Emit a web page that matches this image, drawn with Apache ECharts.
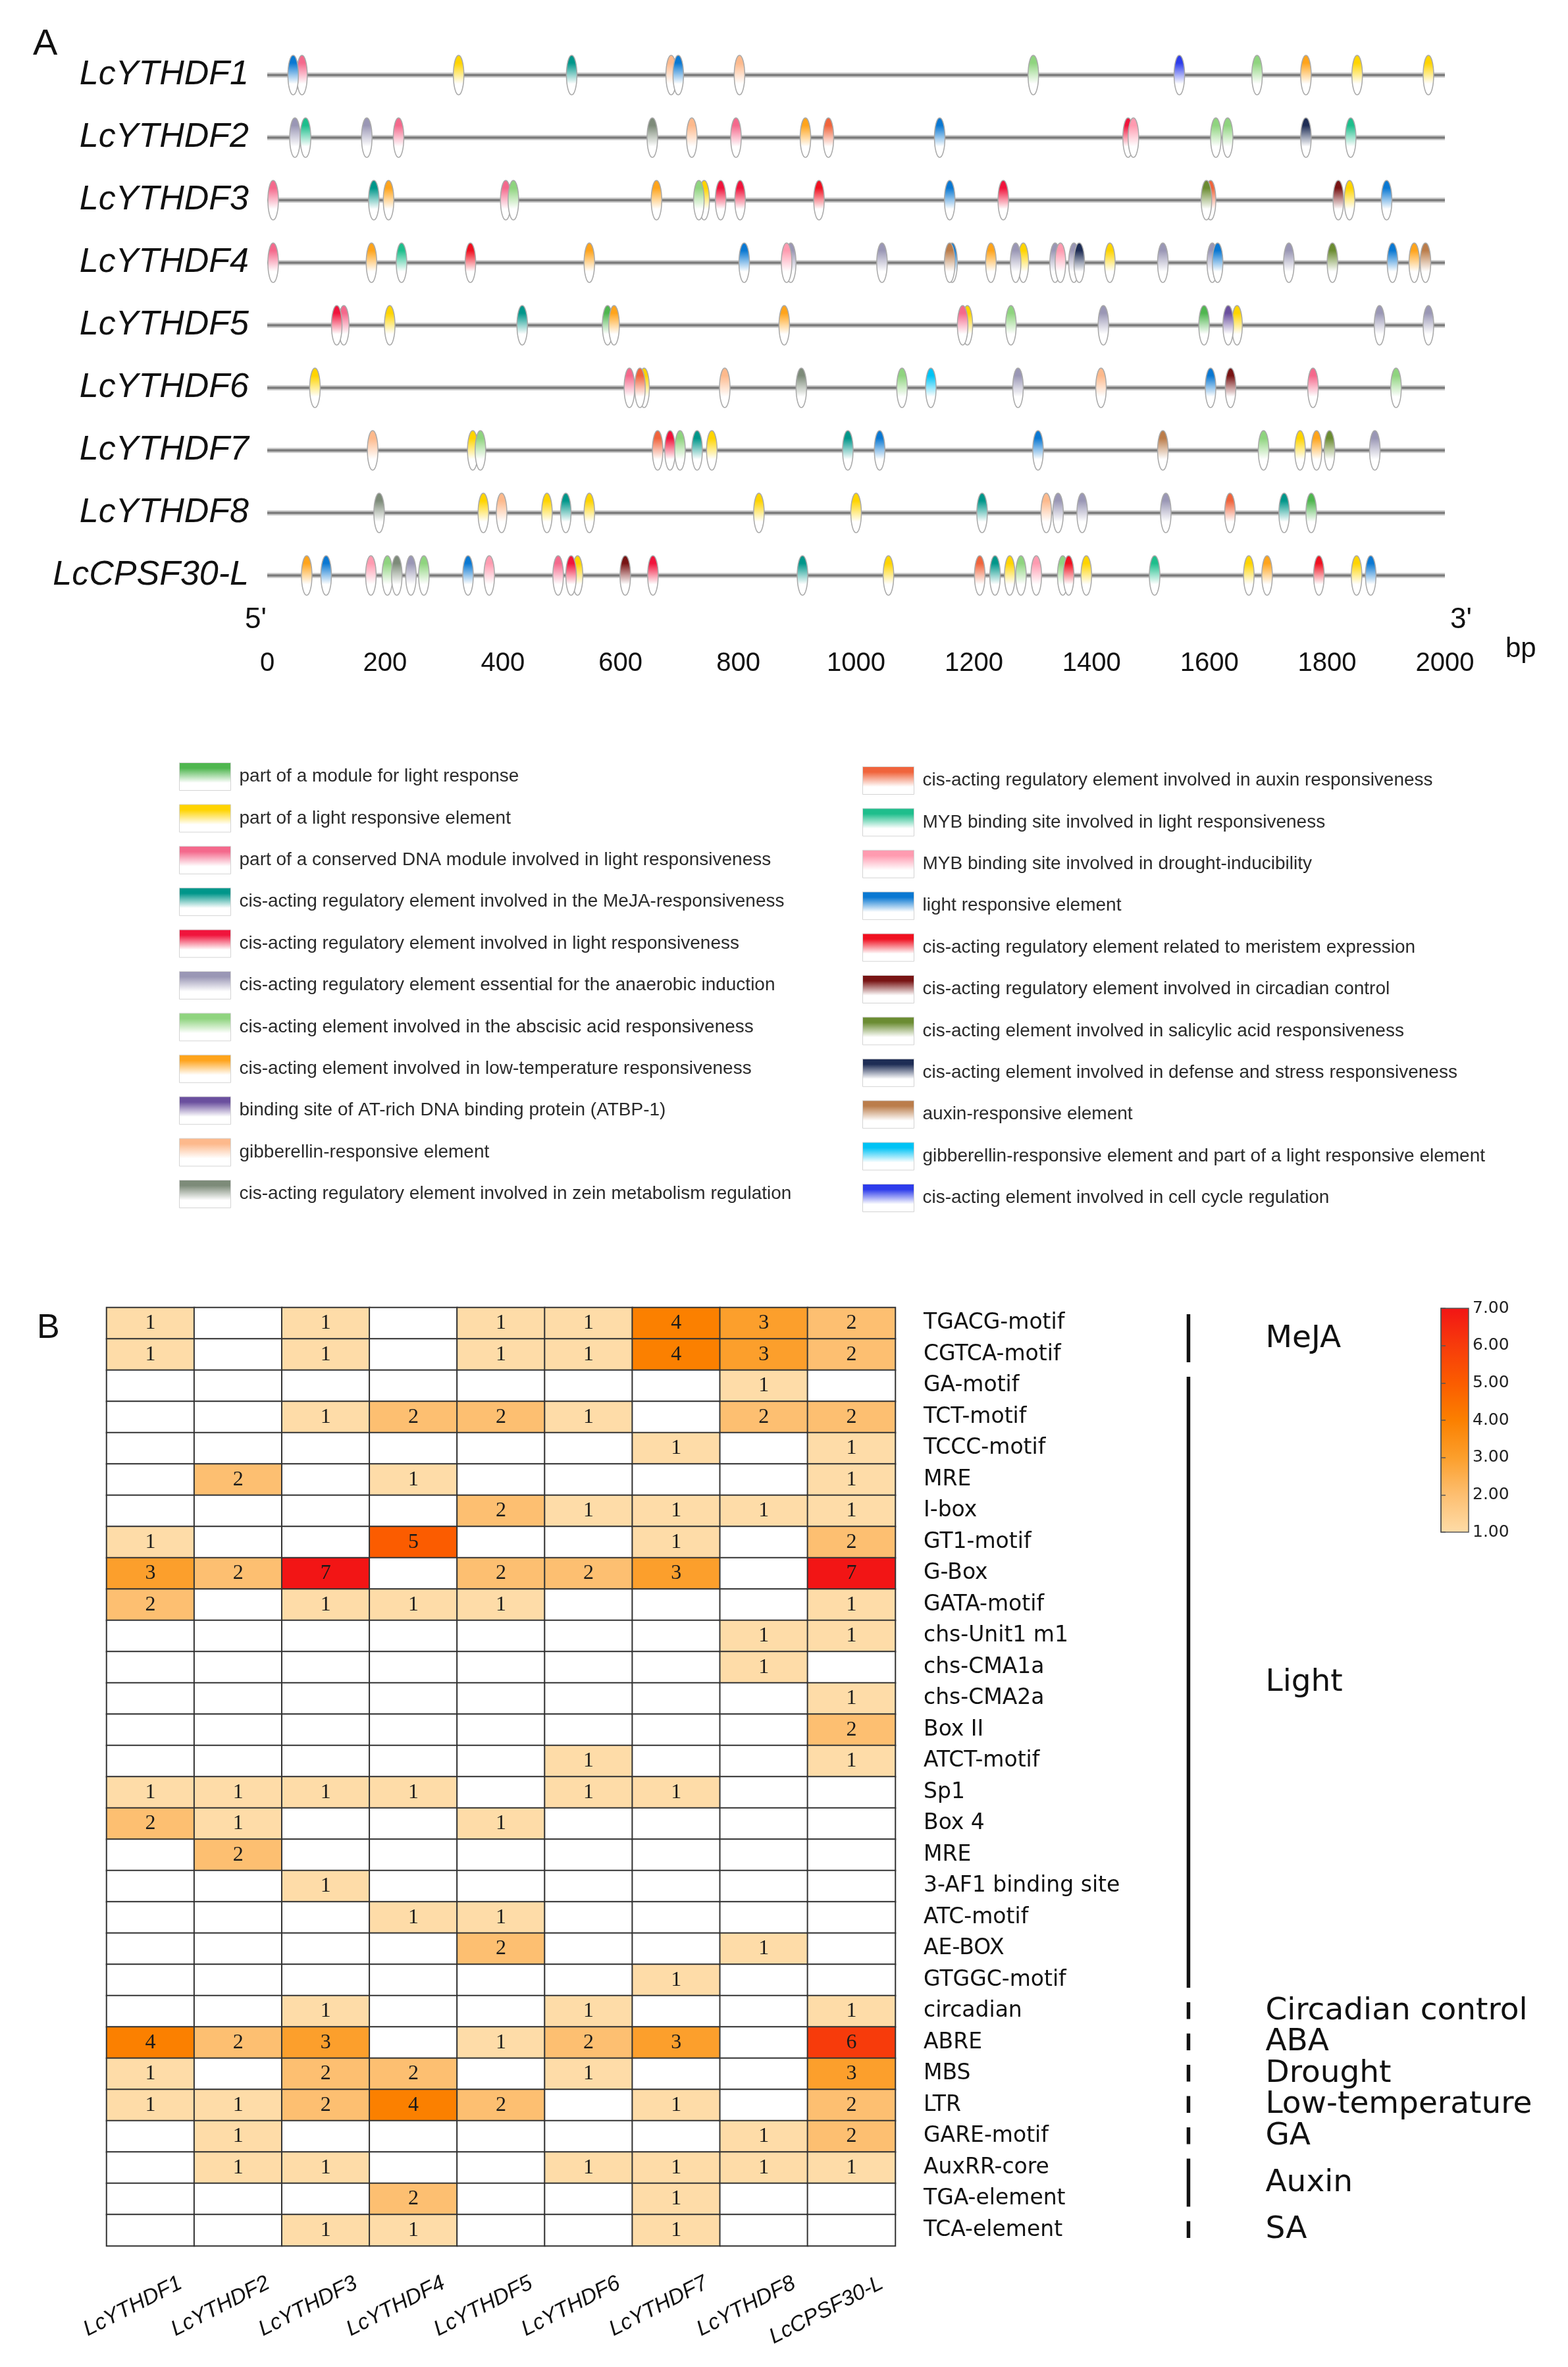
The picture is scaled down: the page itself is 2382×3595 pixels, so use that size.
<!DOCTYPE html>
<html><head><meta charset="utf-8">
<script src="https://cdn.jsdelivr.net/npm/echarts@6/dist/echarts.min.js"></script>
<style>html,body{margin:0;padding:0;background:#fff}#c{width:2382px;height:3595px}</style>
</head><body><div id="c"></div>
<script>
// ---------- Panel A data ----------
const genes = ['LcYTHDF1','LcYTHDF2','LcYTHDF3','LcYTHDF4','LcYTHDF5','LcYTHDF6','LcYTHDF7','LcYTHDF8','LcCPSF30-L'];
const sequenceLength = 2000;
const elementTypes = [
 'part of a module for light response',
 'part of a light responsive element',
 'part of a conserved DNA module involved in light responsiveness',
 'cis-acting regulatory element involved in the MeJA-responsiveness',
 'cis-acting regulatory element involved in light responsiveness',
 'cis-acting regulatory element essential for the anaerobic induction',
 'cis-acting element involved in the abscisic acid responsiveness',
 'cis-acting element involved in low-temperature responsiveness',
 'binding site of AT-rich DNA binding protein (ATBP-1)',
 'gibberellin-responsive element',
 'cis-acting regulatory element involved in zein metabolism regulation',
 'cis-acting regulatory element involved in auxin responsiveness',
 'MYB binding site involved in light responsiveness',
 'MYB binding site involved in drought-inducibility',
 'light responsive element',
 'cis-acting regulatory element related to meristem expression',
 'cis-acting regulatory element involved in circadian control',
 'cis-acting element involved in salicylic acid responsiveness',
 'cis-acting element involved in defense and stress responsiveness',
 'auxin-responsive element',
 'gibberellin-responsive element and part of a light responsive element',
 'cis-acting element involved in cell cycle regulation'
];
const elementColors = ['#4fb64f','#ffd400','#f4698c','#00968a','#f0143c','#9a97b5','#8fd47f','#ffa41c','#6a4f9e','#fdb98c','#7d8b79',
 '#f0643c','#1ebe8c','#ff9bb0','#0a78d2','#f01020','#781414','#6b8c32','#1e2d55','#bb7d4b','#00c3f5','#2d3ceb'];

// [position (bp), element type index]
const sitesYTHDF1 = [[44,14],[59,2],[325,1],[517,3],[686,9],[698,14],[802,9],[1301,6],[1549,21],[1681,6],[1764,7],[1851,1],[1972,1]];
const sitesYTHDF2 = [[47,5],[65,12],[169,5],[223,2],[654,10],[721,9],[796,2],[914,7],[953,11],[1142,14],[1462,4],[1471,13],[1611,6],[1631,6],[1764,18],[1840,12]];
const sitesYTHDF3 = [[10,2],[181,3],[206,7],[405,2],[418,6],[661,7],[733,6],[742,1],[770,4],[803,4],[937,15],[1159,14],[1250,4],[1595,17],[1602,11],[1819,16],[1838,1],[1901,14]];
const sitesYTHDF4 = [[10,2],[177,7],[228,12],[345,15],[547,7],[810,14],[882,13],[889,5],[1044,5],[1159,19],[1163,14],[1229,7],[1271,5],[1284,1],[1338,5],[1347,13],[1370,5],[1379,18],[1431,1],[1521,5],[1605,5],[1614,14],[1735,5],[1809,17],[1911,14],[1948,7],[1967,19]];
const sitesYTHDF5 = [[118,4],[130,2],[208,1],[433,3],[578,0],[589,7],[878,7],[1181,2],[1189,1],[1263,6],[1420,5],[1591,0],[1632,8],[1647,1],[1889,5],[1972,5]];
const sitesYTHDF6 = [[81,1],[615,2],[640,1],[633,11],[777,9],[907,10],[1078,6],[1127,20],[1275,5],[1416,9],[1602,14],[1636,16],[1776,2],[1917,6]];
const sitesYTHDF7 = [[179,9],[349,1],[362,6],[663,11],[684,4],[701,6],[730,3],[755,1],[986,3],[1040,14],[1309,14],[1521,19],[1692,6],[1754,1],[1782,7],[1804,17],[1881,5]];
const sitesYTHDF8 = [[190,10],[367,1],[398,9],[475,1],[507,3],[547,1],[835,1],[1000,1],[1214,3],[1323,9],[1343,5],[1384,5],[1526,5],[1635,11],[1727,3],[1773,0]];
const sitesCPSF30 = [[67,7],[100,14],[176,13],[204,6],[220,10],[244,5],[266,6],[341,14],[377,13],[494,2],[516,4],[527,1],[608,16],[655,4],[909,3],[1055,1],[1210,11],[1236,3],[1261,1],[1280,6],[1306,13],[1351,6],[1361,15],[1391,1],[1507,12],[1667,1],[1698,7],[1786,15],[1850,1],[1874,14]];
const geneSites = [sitesYTHDF1,sitesYTHDF2,sitesYTHDF3,sitesYTHDF4,sitesYTHDF5,sitesYTHDF6,sitesYTHDF7,sitesYTHDF8,sitesCPSF30];

// ---------- Panel B data ----------
const motifs = ['TGACG-motif','CGTCA-motif','GA-motif','TCT-motif','TCCC-motif','MRE','I-box','GT1-motif','G-Box','GATA-motif',
 'chs-Unit1 m1','chs-CMA1a','chs-CMA2a','Box II','ATCT-motif','Sp1','Box 4','MRE ','3-AF1 binding site','ATC-motif',
 'AE-BOX','GTGGC-motif','circadian','ABRE','MBS','LTR','GARE-motif','AuxRR-core','TGA-element','TCA-element'];
const countsYTHDF1 = [1,1,0,0,0,0,0,1,3,2, 0,0,0,0,0,1,2,0,0,0, 0,0,0,4,1,1,0,0,0,0];
const countsYTHDF2 = [0,0,0,0,0,2,0,0,2,0, 0,0,0,0,0,1,1,2,0,0, 0,0,0,2,0,1,1,1,0,0];
const countsYTHDF3 = [1,1,0,1,0,0,0,0,7,1, 0,0,0,0,0,1,0,0,1,0, 0,0,1,3,2,2,0,1,0,1];
const countsYTHDF4 = [0,0,0,2,0,1,0,5,0,1, 0,0,0,0,0,1,0,0,0,1, 0,0,0,0,2,4,0,0,2,1];
const countsYTHDF5 = [1,1,0,2,0,0,2,0,2,1, 0,0,0,0,0,0,1,0,0,1, 2,0,0,1,0,2,0,0,0,0];
const countsYTHDF6 = [1,1,0,1,0,0,1,0,2,0, 0,0,0,0,1,1,0,0,0,0, 0,0,1,2,1,0,0,1,0,0];
const countsYTHDF7 = [4,4,0,0,1,0,1,1,3,0, 0,0,0,0,0,1,0,0,0,0, 0,1,0,3,0,1,0,1,1,1];
const countsYTHDF8 = [3,3,1,2,0,0,1,0,0,0, 1,1,0,0,0,0,0,0,0,0, 1,0,0,0,0,0,1,1,0,0];
const countsCPSF30 = [2,2,0,2,1,1,1,2,7,1, 1,0,1,2,1,0,0,0,0,0, 0,0,1,6,3,2,2,1,0,0];
const geneCounts = [countsYTHDF1,countsYTHDF2,countsYTHDF3,countsYTHDF4,countsYTHDF5,countsYTHDF6,countsYTHDF7,countsYTHDF8,countsCPSF30];
const groupNames = ['MeJA','Light','Circadian control','ABA','Drought','Low-temperature','GA','Auxin','SA'];
const groupFirstRow = [0,2,22,23,24,25,26,27,29];
const groupLastRow  = [1,21,22,23,24,25,26,28,29];
const heatPalette = ['#fedca8','#fdbf71','#fc9f2c','#fb8000','#fb5c00','#f73b0b','#f21515'];

// ---------- build ----------
function grad(c){
  return new echarts.graphic.LinearGradient(0,0,0,1,[
    {offset:0,color:c},{offset:0.2,color:c},{offset:0.72,color:'#ffffff'},{offset:1,color:'#ffffff'}]);
}
const typeData = elementTypes.map(()=>[]);
geneSites.forEach((list,g)=>list.forEach(([bp,t])=>typeData[t].push([bp,g])));

const siteSeries = elementTypes.map((name,t)=>({
  type:'custom', name, xAxisIndex:0, yAxisIndex:0, z:3, silent:true,
  itemStyle:{color:grad(elementColors[t])},
  data:typeData[t],
  renderItem:(params,api)=>{
    const p = api.coord([api.value(0), api.value(1)]);
    return {type:'ellipse', shape:{cx:p[0], cy:p[1], rx:8, ry:30},
      style:{fill:grad(elementColors[t]), stroke:'#a9a9a9', lineWidth:1.5}};
  }
}));

const heatData = [];
geneCounts.forEach((col,c)=>col.forEach((v,r)=>heatData.push([c,r,v])));

const cbGrad = new echarts.graphic.LinearGradient(0,0,0,1,
  heatPalette.slice().reverse().map((c,i,a)=>({offset:i/(a.length-1), color:c})));

const pieces = [{value:0, color:'#ffffff'}].concat(heatPalette.map((c,i)=>({value:i+1, color:c})));

const chart = echarts.init(document.getElementById('c'), null, {renderer:'canvas'});
const option = {
  animation:false,
  backgroundColor:'#ffffff',
  grid:[
    {left:406, top:66.5, width:1789, height:855},
    {left:162, top:1986, width:1198, height:1425},
    {left:2189, top:1987, width:42, height:340, show:true, backgroundColor:cbGrad, borderColor:'#555', borderWidth:1.5},
    {left:208, top:1986, width:1198, height:1425}
  ],
  xAxis:[
    {gridIndex:0, type:'value', min:0, max:sequenceLength, interval:200, offset:30,
     axisLine:{lineStyle:{color:'#a3a3a3', width:7}},
     axisTick:{length:31, lineStyle:{color:'#8a8a8a', width:2}},
     axisLabel:{fontSize:40, color:'#111', margin:36, fontFamily:'Liberation Sans', formatter:v=>String(v)},
     splitLine:{show:false}},
    {gridIndex:1, type:'category', data:genes, axisLine:{show:false}, axisTick:{show:false}, axisLabel:{show:false}},
    {gridIndex:2, type:'value', show:false},
    {gridIndex:3, type:'category', data:genes, axisLine:{show:false}, axisTick:{show:false},
     axisLabel:{rotate:27, fontStyle:'italic', fontSize:33, color:'#111', margin:55, fontFamily:'Liberation Sans', interval:0}}
  ],
  yAxis:[
    {gridIndex:0, type:'category', data:genes, inverse:true, axisLine:{show:false}, axisTick:{show:false},
     axisLabel:{fontStyle:'italic', fontSize:52, color:'#111', margin:28, fontFamily:'Liberation Sans'}},
    {gridIndex:1, type:'category', data:motifs, inverse:true, position:'right', axisLine:{show:false}, axisTick:{show:false},
     axisLabel:{fontSize:33, color:'#111', margin:43, fontFamily:'DejaVu Sans', interval:0}},
    {gridIndex:2, type:'value', min:1, max:7, interval:1, position:'right',
     axisLine:{show:true, lineStyle:{color:'#555', width:1.5}}, axisTick:{show:true, length:7, lineStyle:{color:'#555', width:1.5}},
     axisLabel:{fontSize:25, color:'#222', margin:6, fontFamily:'DejaVu Sans', formatter:v=>v.toFixed(2)}, splitLine:{show:false}},
    {gridIndex:3, type:'category', data:motifs, show:false}
  ],
  visualMap:[{type:'piecewise', show:false, seriesIndex:1 + elementTypes.length, dimension:2, pieces:pieces}],
  legend:[
    {data:elementTypes.slice(0,11), orient:'vertical', left:272, top:1158, itemWidth:78, itemHeight:42, itemGap:20.4,
     icon:'rect', selectedMode:false, padding:0, itemStyle:{borderColor:'#d4d4d4', borderWidth:1},
     textStyle:{fontSize:28, color:'#2a2a2a', fontFamily:'Liberation Sans', padding:[0,0,0,8]}},
    {data:elementTypes.slice(11), orient:'vertical', left:1310, top:1164, itemWidth:78, itemHeight:42, itemGap:20.4,
     icon:'rect', selectedMode:false, padding:0, itemStyle:{borderColor:'#d4d4d4', borderWidth:1},
     textStyle:{fontSize:28, color:'#2a2a2a', fontFamily:'Liberation Sans', padding:[0,0,0,8]}}
  ],
  graphic:[
    {type:'text', left:50, top:40, style:{text:'A', fontSize:56, fill:'#111', fontFamily:'Liberation Sans'}},
    {type:'text', left:56, top:1992, style:{text:'B', fontSize:52, fill:'#111', fontFamily:'Liberation Sans'}},
    {type:'text', left:372, top:920, style:{text:"5'", fontSize:44, fill:'#111', fontFamily:'Liberation Sans'}},
    {type:'text', left:2203, top:920, style:{text:"3'", fontSize:44, fill:'#111', fontFamily:'Liberation Sans'}},
    {type:'text', left:2287, top:965, style:{text:'bp', fontSize:42, fill:'#111', fontFamily:'Liberation Sans'}}
  ],
  series:[
    {type:'custom', name:'track', xAxisIndex:0, yAxisIndex:0, z:2, silent:true,
     data:genes.map((g,i)=>[0,i]),
     renderItem:(params,api)=>{
       const a = api.coord([0, api.value(1)]);
       const b = api.coord([sequenceLength, api.value(1)]);
       return {type:'group', children:[
         {type:'line', shape:{x1:a[0],y1:a[1],x2:b[0],y2:b[1]}, style:{stroke:'#cdcdcd', lineWidth:8}},
         {type:'line', shape:{x1:a[0],y1:a[1],x2:b[0],y2:b[1]}, style:{stroke:'#7b7b7b', lineWidth:3.5}}
       ]};
     }},
    ...siteSeries,
    {type:'heatmap', name:'counts', xAxisIndex:1, yAxisIndex:1, data:heatData,
     itemStyle:{borderColor:'#333', borderWidth:2},
     label:{show:true, formatter:p=>p.value[2] > 0 ? String(p.value[2]) : '', fontSize:32, color:'#1a1a1a', fontFamily:'Liberation Serif'},
     emphasis:{disabled:true}},
    {type:'custom', name:'groups', xAxisIndex:1, yAxisIndex:1, silent:true, clip:false,
     data:groupNames.map((n,i)=>[genes.length-1, groupFirstRow[i], groupLastRow[i], i]),
     renderItem:(params,api)=>{
       const band = api.size([0,1])[1];
       const c0 = api.coord([api.value(0), api.value(1)]);
       const c1 = api.coord([api.value(0), api.value(2)]);
       const x = c0[0] + 512;
       const y0 = c0[1] - band/2 + 10, y1 = c1[1] + band/2 - 12;
       return {type:'group', children:[
         {type:'line', shape:{x1:x,y1:y0,x2:x,y2:y1}, style:{stroke:'#111', lineWidth:5.5}},
         {type:'text', x:x+117, y:(c0[1]+c1[1])/2,
          style:{text:groupNames[api.value(3)], fontSize:47, fontFamily:'DejaVu Sans', fill:'#111', verticalAlign:'middle', align:'left'}}
       ]};
     }}
  ]
};
chart.setOption(option);
</script>
</body></html>
